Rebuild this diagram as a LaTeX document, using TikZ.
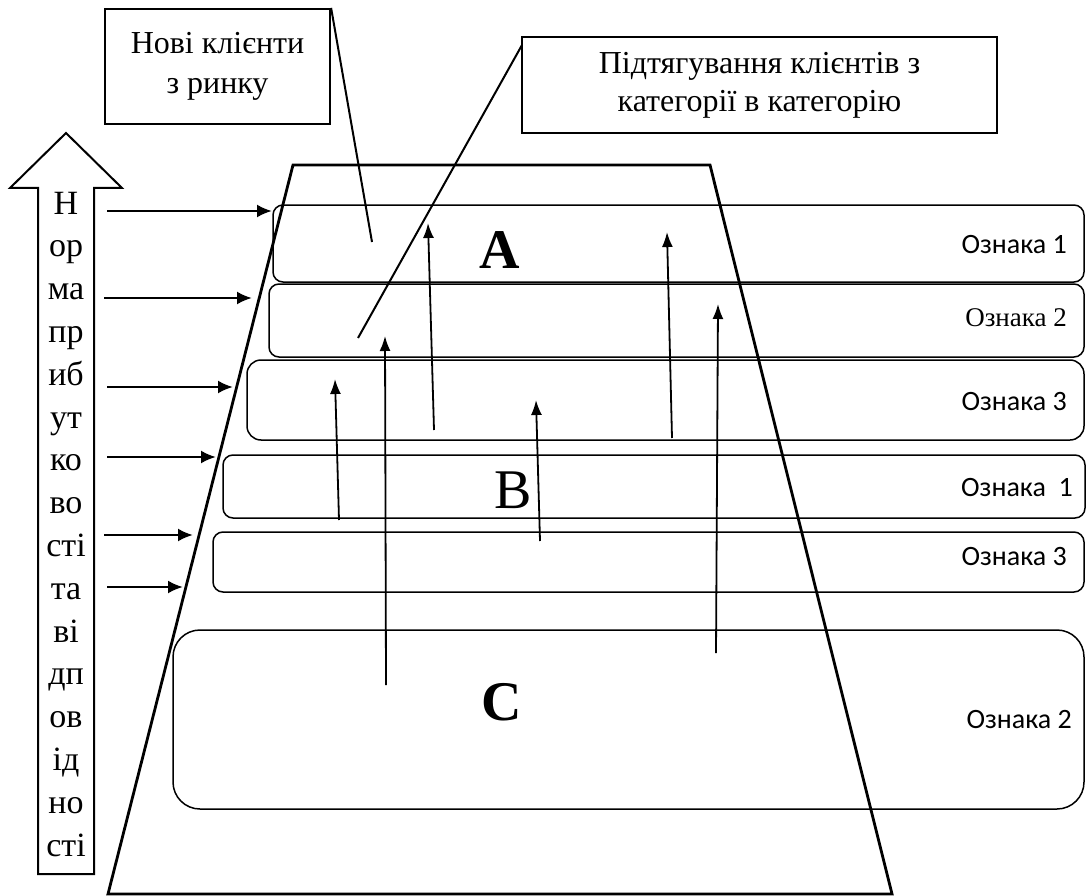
\documentclass[tikz,border=0pt]{standalone}
\usepackage{fontspec}
\setmainfont{Liberation Serif}
\newfontfamily\lblfont{Carlito}
\usetikzlibrary{arrows.meta}
\begin{document}
\begin{tikzpicture}[x=1pt,y=-1pt,
  trap/.style={line width=2.8pt, line join=miter},
  callout/.style={draw, line width=2.2pt, inner sep=0pt, align=center, font=\fontsize{32}{40}\selectfont},
  band/.style={draw, line width=1.5pt, inner sep=0pt},
  lblsans/.style={anchor=east, inner sep=0pt, font=\lblfont\fontsize{28}{30}\selectfont},
  lblserif/.style={anchor=east, inner sep=0pt, font=\fontsize{27}{30}\selectfont},
  uparrow/.style={-{Latex[length=15pt,width=11pt]}, line width=1.8pt},
  sidearrow/.style={-{Latex[length=15pt,width=13pt]}, line width=2.4pt},
  leader/.style={line width=2pt},
  vtext/.style={anchor=base, inner sep=0pt, font=\fontsize{34}{40}\selectfont},
  bigletter/.style={inner sep=0pt, font=\fontsize{56}{60}\selectfont}
]
\useasboundingbox (0,0) rectangle (1086,896);

% trapezoid
\coordinate (TL) at (293,165);
\coordinate (TR) at (710,165);
\coordinate (BR) at (892,894);
\coordinate (BL) at (108,894);
\draw[trap] (TL) -- (TR) -- (BR) -- (BL) -- cycle;

% big upward arrow
\draw[line width=2pt, line join=miter] (38,874) -- (38,188) -- (10,188) -- (66,133) -- (122,188) -- (94,188) -- (94,874) -- cycle;
\foreach \s [count=\i from 0] in {Н,ор,ма,пр,иб,ут,ко,во,сті,та,ві,дп,ов,ід,но,сті}
  \node[vtext] (v\i) at (66,{214+42.8*\i}) {\s};

% callouts
\node[callout, minimum width=225pt, minimum height=115pt] (new) at (217.5,66.5) {Нові клієнти\\з ринку};
\node[callout, minimum width=475pt, minimum height=96pt, font=\fontsize{32}{38}\selectfont] (pull) at (759.5,85) {Підтягування клієнтів з\\категорії в категорію};
\coordinate (newEnd) at (372,242);
\draw[leader] (new.north east) -- (newEnd);
\coordinate (pullStart) at (522,45);
\coordinate (pullEnd) at (358,338);
\draw[leader] (pullStart) -- (pullEnd);

% bands
\node[band, rounded corners=10pt, minimum width=811pt, minimum height=77pt] (bA) at (678.5,243.5) {};
\node[band, rounded corners=10pt, minimum width=815pt, minimum height=73pt] (b2) at (676.5,320.5) {};
\node[band, rounded corners=14pt, minimum width=837pt, minimum height=80pt] (b3) at (665.5,400) {};
\node[band, rounded corners=10pt, minimum width=862pt, minimum height=63pt] (bB) at (654,486.5) {};
\node[band, rounded corners=10pt, minimum width=871pt, minimum height=60pt] (b5) at (648.5,562) {};
\node[band, rounded corners=27pt, minimum width=911pt, minimum height=179pt] (bC) at (628.5,719.5) {};

% labels
\node[lblsans] (l1) at (1067,245) {Ознака 1};
\node[lblserif] (l2) at (1067,318) {Ознака 2};
\node[lblsans] (l3) at (1067,402) {Ознака 3};
\node[lblsans] (l4) at (1073,488) {Ознака \ 1};
\node[lblsans] (l5) at (1067,557) {Ознака 3};
\node[lblsans] (l6) at (1072,720) {Ознака 2};

% category letters
\node[bigletter, font=\bfseries\fontsize{56}{60}\selectfont] (A) at (500,250) {A};
\node[bigletter] (B) at (513,490) {B};
\node[bigletter, font=\bfseries\fontsize{56}{60}\selectfont] (C) at (502,702) {C};

% side arrows
\foreach \y/\xs/\xe [count=\k] in {211/107/272, 298/104/252, 387/107/233, 457/107/216, 535/104/193, 587/107/183} {
  \coordinate (s\k) at (\xs,\y);
  \coordinate (e\k) at (\xe,\y);
  \draw[sidearrow] (s\k) -- (e\k);
}

% upward arrows
\foreach \xa/\ya/\xb/\yb [count=\k] in {339/520/335/379, 386/685/385/336, 434/430/428/223, 540/541/536/400, 672/438/667/232, 716/653/718/304} {
  \coordinate (us\k) at (\xa,\ya);
  \coordinate (ue\k) at (\xb,\yb);
  \draw[uparrow] (us\k) -- (ue\k);
}
\end{tikzpicture}
\end{document}
